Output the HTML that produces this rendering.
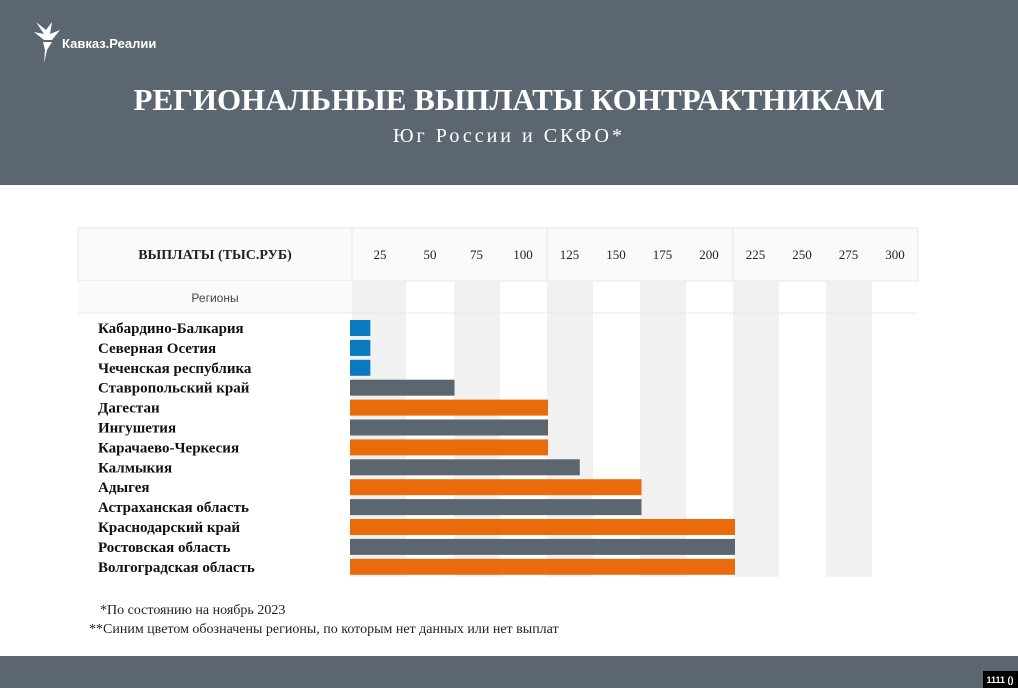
<!DOCTYPE html>
<html><head><meta charset="utf-8"><style>
body{margin:0;width:1018px;height:688px;overflow:hidden;background:#fff}
svg{display:block}
</style></head><body>
<svg width="1018" height="688" xmlns="http://www.w3.org/2000/svg">
<rect x="0" y="0" width="1018" height="185" fill="#5b6670"/>
<g fill="#fff">
<path d="M36 22 L46 30 L52 22 L50 34 L60 30 L52 40 L44 40 L34 32 L44 34 Z" />
<path d="M43 42 L52 42 L47 50 L44 63 L45 50 Z"/>
<text x="62" y="48" font-family="Liberation Sans, sans-serif" font-weight="bold" font-size="13">Кавказ.Реалии</text>
</g>
<text x="509" y="110" text-anchor="middle" fill="#fff" font-family="Liberation Serif, serif" font-weight="bold" font-size="31">РЕГИОНАЛЬНЫЕ ВЫПЛАТЫ КОНТРАКТНИКАМ</text>
<text x="509" y="142" text-anchor="middle" fill="#fff" font-family="Liberation Serif, serif" font-size="20" letter-spacing="3">Юг России и СКФО*</text>
<g id="grid"></g>
<g id="bars"></g>
<text x="100" y="614" font-family="Liberation Serif, serif" font-size="14" fill="#222">*По состоянию на ноябрь 2023</text>
<text x="89" y="633" font-family="Liberation Serif, serif" font-size="14" fill="#222">**Синим цветом обозначены регионы, по которым нет данных или нет выплат</text>
<rect x="0" y="656" width="1018" height="32" fill="#5b6670"/>
<rect x="983" y="671" width="35" height="17" fill="#000"/>
<text x="1000" y="683" text-anchor="middle" fill="#fff" font-family="Liberation Sans, sans-serif" font-weight="bold" font-size="9">1111 ()</text>
</svg>
<script>
const regions=["Кабардино-Балкария","Северная Осетия","Чеченская республика","Ставропольский край","Дагестан","Ингушетия","Карачаево-Черкесия","Калмыкия","Адыгея","Астраханская область","Краснодарский край","Ростовская область","Волгоградская область"];
const values=[5,5,5,50,100,100,100,117,150,150,200,200,200];
const noData=[true,true,true,false,false,false,false,false,false,false,false,false,false];
const ticks=[25,50,75,100,125,150,175,200,225,250,275,300];
const NS="http://www.w3.org/2000/svg";
function xs(v){return 361+1.87*v;}
function colCenter(i){return 380+(i===0?0:50+(i-1)*46.5);}
function mk(t,a,p){const e=document.createElementNS(NS,t);for(const k in a)e.setAttribute(k,a[k]);p.appendChild(e);return e;}
const g=document.getElementById('grid');
let r=mk('rect',{x:78,y:228,width:840,height:53,fill:'#fafafa',stroke:'#e6e6e6'},g);


r=mk('rect',{x:78,y:281,width:274,height:32,fill:'#fafafa'},g);


[352,547,733].forEach(x=>{mk('line',{x1:x,y1:228,x2:x,y2:281,stroke:'#e6e6e6'},g);});
for(let i=0;i<6;i++){
 const x0=i===0?352:406+48+(i-1)*93, x1=i===0?406:x0+46;
 r=mk('rect',{x:x0,y:281,width:x1-x0,height:296,fill:'#f1f1f1'},g);
 
 
}
mk('line',{x1:78,y1:313,x2:918,y2:313,stroke:'#e8e8e8'},g);
let t=mk('text',{x:215,y:259,'text-anchor':'middle','font-family':'Liberation Serif, serif','font-weight':'bold','font-size':14,fill:'#222'},g);
t.textContent='ВЫПЛАТЫ (ТЫС.РУБ)';


t=mk('text',{x:215,y:302,'text-anchor':'middle','font-family':'Liberation Sans, sans-serif','font-size':12,fill:'#444'},g);
t.textContent='Регионы';


ticks.forEach((v,i)=>{
 const e=mk('text',{x:colCenter(i),y:259,'text-anchor':'middle','font-family':'Liberation Serif, serif','font-size':13,fill:'#222'},g);
 e.textContent=v;
 
 
});
const b=document.getElementById('bars');
regions.forEach((name,i)=>{
 const cy=328+i*19.9;
 const l=mk('text',{x:98,y:cy+5,'font-family':'Liberation Serif, serif','font-weight':'bold','font-size':15,fill:'#111'},b);
 l.textContent=name;
 
 
 const col=noData[i]?'#0a7ac0':(i%2===0?'#ea6b0c':'#5b6670');
 const bar=mk('rect',{x:350,y:cy-8,width:xs(values[i])-350,height:16,fill:col},b);
 
 
});
</script>
</body></html>
